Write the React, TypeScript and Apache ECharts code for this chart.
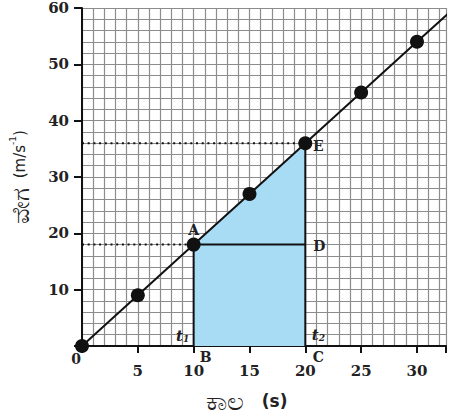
import React, { useEffect, useRef } from "react";
import * as echarts from "echarts";

// data
const timeValues = [0, 5, 10, 15, 20, 25, 30];
const velocityValues = [0, 9, 18, 27, 36, 45, 54];
const lineEnd = [34, 61.2];
const shadedTop = [[10, 18], [20, 36]];
const verticalB = [[10, 0], [10, 18]];
const verticalC = [[20, 0], [20, 36]];
const segmentAD = [[10, 18], [20, 18]];
const dottedA = [[0, 18], [10, 18]];
const dottedE = [[0, 36], [20, 36]];
const annotationNames = ["A", "D", "E", "B", "C", "t1", "t2", "0"];
const annotationPoints = [[10, 18], [20, 18], [20, 36], [10, 0], [20, 0], [10, 0], [20, 0], [0, 0]];
const xTickLabels = ["", "5", "10", "15", "20", "25", "30"];
const yTickLabels = ["", "10", "20", "30", "40", "50", "60"];
const xMax = 32.6;
const yMax = 60;

const FONT = "DejaVu Serif";

const offsets: Record<string, number[]> = {
  A: [0, -15],
  D: [14, 1],
  E: [13, 3],
  B: [12, 11],
  C: [13, 11],
  t1: [-11, -10],
  t2: [13, -11],
  "0": [-6, 13],
};

export default function App() {
  const ref = useRef<HTMLDivElement>(null);
  useEffect(() => {
    if (!ref.current) return;
    const chart = echarts.init(ref.current, null, { renderer: "svg" });
    const black = "#111";
    const gridGray = "#8c8c8c";
    const lineSeg = (data: number[][], extra: any = {}) => ({
      type: "line",
      data,
      symbol: "none",
      lineStyle: { color: black, width: 2, ...(extra.lineStyle || {}) },
      z: extra.z ?? 3,
      silent: true,
    });
    const option: any = {
      animation: false,
      grid: { left: 81, top: 8, right: 0, bottom: 73, containLabel: false },
      xAxis: [
        {
          type: "value",
          min: 0,
          max: xMax,
          interval: 1,
          axisLine: { show: true, onZero: false, lineStyle: { color: black, width: 2 } },
          axisTick: { show: false },
          axisLabel: { show: false },
          splitLine: { show: true, lineStyle: { color: gridGray, width: 1.2 } },
        },
        {
          type: "value",
          min: 0,
          max: xMax,
          interval: 5,
          position: "bottom",
          axisLine: { show: false },
          axisTick: { show: true, length: 7, lineStyle: { color: black, width: 2 } },
          axisLabel: {
            show: true,
            margin: 17,
            fontFamily: FONT,
            fontWeight: "bold",
            fontSize: 15,
            color: "#222",
            formatter: (v: number) => xTickLabels[Math.round(v / 5)] ?? "",
          },
          splitLine: { show: false },
        },
      ],
      yAxis: [
        {
          type: "value",
          min: 0,
          max: yMax,
          interval: 2,
          axisLine: { show: true, onZero: false, lineStyle: { color: black, width: 2 } },
          axisTick: { show: false },
          axisLabel: { show: false },
          splitLine: { show: true, lineStyle: { color: gridGray, width: 1.2 } },
          name: "{k|ವೇಗ}{a|  (m/s}{sup|-1}{a|)}",
          nameLocation: "middle",
          nameGap: 50,
          nameRotate: 90,
          nameTextStyle: {
            rich: {
              k: { fontSize: 24, color: "#222" },
              a: { fontFamily: "DejaVu Sans", fontSize: 15, color: "#222" },
              sup: { fontFamily: "DejaVu Sans", fontSize: 9, color: "#222", verticalAlign: "top", padding: [0, 0, 8, 0] },
            },
          },
        },
        {
          type: "value",
          min: 0,
          max: yMax,
          interval: 10,
          position: "left",
          axisLine: { show: false },
          axisTick: { show: true, length: 8, lineStyle: { color: black, width: 2 } },
          axisLabel: {
            show: true,
            margin: 13,
            fontFamily: FONT,
            fontWeight: "bold",
            fontSize: 15,
            color: "#222",
            formatter: (v: number) => yTickLabels[Math.round(v / 10)] ?? "",
          },
          splitLine: { show: false },
        },
      ],
      graphic: [
        {
          type: "text",
          left: 206,
          top: 388,
          style: {
            text: "{k|ಕಾಲ}{a|   (s)}",
            rich: {
              k: { fontSize: 26, fill: "#222" },
              a: { fontFamily: "DejaVu Sans", fontWeight: "bold", fontSize: 17, fill: "#222" },
            },
          },
        },
      ],
      series: [
        {
          type: "line",
          data: shadedTop,
          symbol: "none",
          lineStyle: { width: 0 },
          areaStyle: { color: "#a8dcf5", opacity: 1, origin: 0 },
          z: 2,
          silent: true,
        },
        lineSeg(dottedA, { lineStyle: { type: [2, 3.7], width: 2 } }),
        lineSeg(dottedE, { lineStyle: { type: [2, 3.7], width: 2 } }),
        lineSeg(verticalB),
        lineSeg(verticalC),
        lineSeg(segmentAD),
        {
          type: "line",
          data: [...timeValues.map((t, i) => [t, velocityValues[i]]), lineEnd],
          symbol: "none",
          lineStyle: { color: black, width: 2 },
          clip: true,
          z: 4,
          silent: true,
        },
        {
          type: "scatter",
          data: timeValues.map((t, i) => [t, velocityValues[i]]),
          symbol: "circle",
          symbolSize: 14,
          itemStyle: { color: black, opacity: 1 },
          z: 5,
          silent: true,
        },
        {
          type: "scatter",
          data: annotationNames.map((n, i) => ({ name: n, value: annotationPoints[i] })),
          symbolSize: 2,
          itemStyle: { color: "rgba(0,0,0,0)", opacity: 1 },
          z: 6,
          silent: true,
          clip: false,
          label: {
            show: true,
            position: "inside",
            formatter: (p: any) => {
              const n = p.name as string;
              if (n.startsWith("t")) return `{t|t}{s|${n.slice(1)}}`;
              return `{b|${n}}`;
            },
            rich: {
              b: { fontFamily: FONT, fontWeight: "bold", fontSize: 14, color: "#222" },
              t: { fontFamily: FONT, fontWeight: "bold", fontStyle: "italic", fontSize: 15, color: "#222" },
              s: { fontFamily: FONT, fontWeight: "bold", fontStyle: "italic", fontSize: 9, color: "#222", verticalAlign: "bottom", padding: [6, 0, 0, 0] },
            },
          },
          labelLayout: (p: any) => {
            const o = offsets[annotationNames[p.dataIndex]] || [0, 0];
            return { dx: o[0], dy: o[1], hideOverlap: false };
          },
        },
      ],
    };
    chart.setOption(option);
    return () => chart.dispose();
  }, []);
  return (
    <div
      ref={ref}
      style={{ position: "fixed", left: 0, top: 0, width: 449, height: 419, background: "#fff" }}
    />
  );
}
